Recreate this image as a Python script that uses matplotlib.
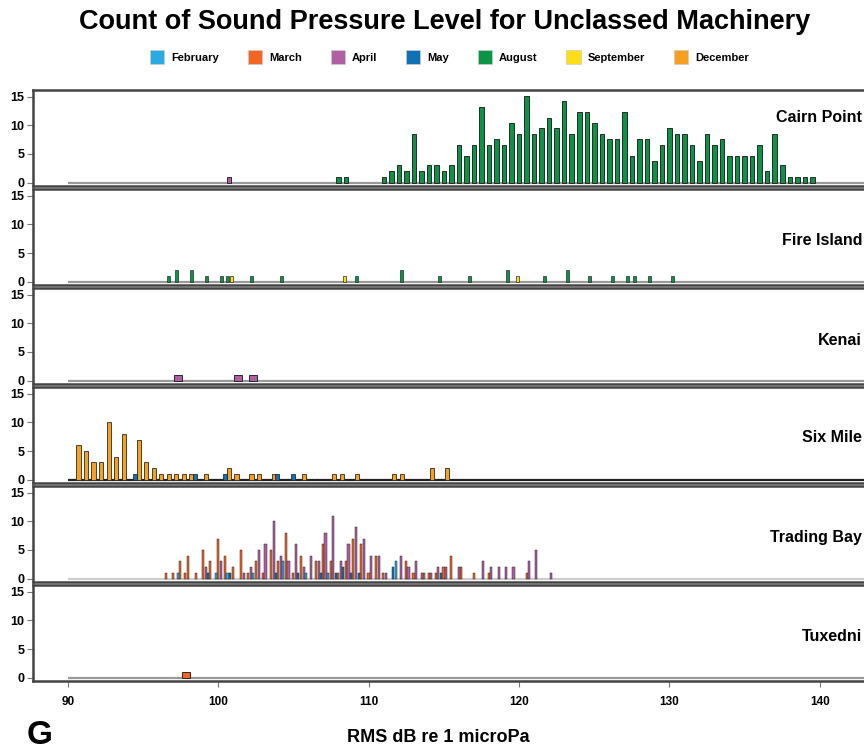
import matplotlib
matplotlib.use("Agg")
import matplotlib.pyplot as plt
from matplotlib.patches import Patch
from matplotlib.transforms import blended_transform_factory

plt.rcParams['font.family'] = ['Liberation Sans', 'DejaVu Sans']
plt.rcParams['font.weight'] = 'bold'

months = ['February', 'March', 'April', 'May', 'August', 'September', 'December']
month_colors = ['#29ABE2', '#F26522', '#B05FA5', '#0F72B5', '#0A9444', '#FFDE17', '#F7A01D']
sites = ['Cairn Point', 'Fire Island', 'Kenai', 'Six Mile', 'Trading Bay', 'Tuxedni']

# Cairn Point
cairn_apr_db = [100.7]
cairn_apr_n = [1]
cairn_aug_db = [108.0, 108.5, 111.0, 111.5, 112.0, 112.5, 113.0, 113.5, 114.0, 114.5,
                115.0, 115.5, 116.0, 116.5, 117.0, 117.5, 118.0, 118.5, 119.0, 119.5,
                120.0, 120.5, 121.0, 121.5, 122.0, 122.5, 123.0, 123.5, 124.0, 124.5,
                125.0, 125.5, 126.0, 126.5, 127.0, 127.5, 128.0, 128.5, 129.0, 129.5,
                130.0, 130.5, 131.0, 131.5, 132.0, 132.5, 133.0, 133.5, 134.0, 134.5,
                135.0, 135.5, 136.0, 136.5, 137.0, 137.5, 138.0, 138.5, 139.0, 139.5]
cairn_aug_n = [1, 1, 1, 2, 3, 2, 8.5, 2, 3, 3,
               2, 3, 6.5, 4.7, 6.5, 13.3, 6.5, 7.6, 6.5, 10.4,
               8.5, 15.2, 8.5, 9.5, 11.3, 9.5, 14.2, 8.5, 12.3, 12.3,
               10.4, 8.5, 7.6, 7.6, 12.3, 4.7, 7.6, 7.6, 3.7, 6.5,
               9.5, 8.5, 8.5, 6.5, 3.7, 8.5, 6.5, 7.6, 4.7, 4.7,
               4.7, 4.7, 6.5, 2, 8.5, 3, 1, 1, 1, 1]

# Fire Island
fire_aug_db = [96.7, 97.2, 98.2, 99.2, 100.2, 100.6, 102.2, 104.2, 109.2, 112.2, 114.7,
               116.7, 119.2, 121.7, 123.2, 124.7, 126.2, 127.2, 127.7, 128.7, 130.2]
fire_aug_n = [1, 2, 2, 1, 1, 1, 1, 1, 1, 2, 1, 1, 2, 1, 2, 1, 1, 1, 1, 1, 1]
fire_sep_db = [100.9, 108.4, 119.9]
fire_sep_n = [1, 1, 1]

# Kenai
kenai_apr_db = [97.3, 101.3, 102.3]
kenai_apr_n = [1, 1, 1]

# Six Mile
six_dec_db = [90.7, 91.2, 91.7, 92.2, 92.7, 93.2, 93.7, 94.7, 95.2, 95.7, 96.2, 96.7,
              97.2, 97.7, 98.2, 99.2, 100.7, 101.2, 102.2, 102.7, 103.7, 105.7, 107.7,
              108.2, 109.2, 111.7, 112.2, 114.2, 115.2]
six_dec_n = [6, 5, 3, 3, 10, 4, 8, 7, 3, 2, 1, 1, 1, 1, 1, 1, 2, 1, 1, 1, 1, 1, 1,
             1, 1, 1, 1, 2, 2]
six_may_db = [94.45, 98.44, 100.44, 103.92, 104.94]
six_may_n = [1, 1, 1, 1, 1]

# Trading Bay
trading_feb_db = [97.3, 99.86, 100.6, 102.28, 104.3, 105.82, 107.31, 111.79]
trading_feb_n = [1, 1, 1, 1, 3, 1, 1, 3]
trading_mar_db = [96.5, 97.0, 97.47, 97.8, 98.0, 98.5, 99.0, 99.46, 99.99, 100.46,
                  100.99, 101.48, 101.99, 102.48, 102.99, 103.5, 103.98, 104.5, 104.98,
                  105.49, 106.49, 106.98, 107.49, 107.97, 108.48, 108.95, 109.5, 109.99,
                  110.5, 110.96, 112.49, 112.98, 113.68, 114.0, 114.47, 114.97, 115.45,
                  116.11, 117.0, 117.99, 120.5]
trading_mar_n = [1, 1, 3, 1, 4, 1, 5, 3, 7, 4,
                 2, 5, 1, 3, 1, 5, 3, 8, 1,
                 4, 3, 6, 3, 1, 3, 7, 6, 1,
                 4, 1, 3, 1, 1, 1, 1, 2, 4,
                 2, 1, 1, 1]
trading_apr_db = [99.2, 100.19, 101.7, 102.15, 102.68, 103.14, 103.68, 104.14, 104.67,
                  105.14, 105.69, 106.14, 106.67, 107.13, 107.64, 108.15, 108.66, 109.15,
                  109.67, 110.17, 110.66, 111.14, 112.16, 112.65, 113.16, 113.52, 114.16,
                  114.62, 115.13, 115.98, 117.61, 118.15, 118.64, 119.12, 119.63, 120.65,
                  121.14, 122.11]
trading_apr_n = [2, 3, 1, 2, 5, 6, 10, 4, 3,
                 6, 2, 4, 3, 8, 11, 3, 6, 9,
                 7, 4, 4, 1, 4, 2, 3, 1, 1,
                 2, 2, 2, 3, 2, 2, 2, 2, 3,
                 5, 1]
trading_may_db = [99.33, 100.77, 103.83, 105.31, 106.84, 107.82, 108.3, 108.8, 109.33,
                  111.63, 114.8]
trading_may_n = [1, 1, 1, 1, 1, 1, 2, 1, 1, 2, 1]

# Tuxedni
tux_mar_db = [97.85]
tux_mar_n = [1]

panel_series = [
    [('April', cairn_apr_db, cairn_apr_n), ('August', cairn_aug_db, cairn_aug_n)],
    [('August', fire_aug_db, fire_aug_n), ('September', fire_sep_db, fire_sep_n)],
    [('April', kenai_apr_db, kenai_apr_n)],
    [('December', six_dec_db, six_dec_n), ('May', six_may_db, six_may_n)],
    [('March', trading_mar_db, trading_mar_n), ('April', trading_apr_db, trading_apr_n),
     ('February', trading_feb_db, trading_feb_n), ('May', trading_may_db, trading_may_n)],
    [('March', tux_mar_db, tux_mar_n)],
]
bar_widths = [0.3, 0.2, 0.5, 0.28, 0.15, 0.55]
edge_widths = [0.7, 0.5, 0.7, 0.6, 0.35, 0.7]
baseline_colors = ['#999999', '#999999', '#999999', '#222222', '#cccccc', '#999999']
label_y = [11.3, 7.2, 7.0, 7.3, 7.2, 7.2]

color_of = dict(zip(months, month_colors))

W, H = 864, 750
fig = plt.figure(figsize=(W / 100, H / 100), dpi=100)

left_px, right_px = 33, 880
top0, panel_h, step = 90, 96, 99

for i, site in enumerate(sites):
    top = top0 + i * step
    ax = fig.add_axes([left_px / W, 1 - (top + panel_h) / H, (right_px - left_px) / W, panel_h / H])
    ax.set_xlim(87.67, 144.0)
    ax.set_ylim(-0.6, 16.2)
    ax.hlines(0, 90, 144, color=baseline_colors[i], lw=1.6, zorder=1)
    for month, xs, ns in panel_series[i]:
        ax.bar(xs, ns, width=bar_widths[i], color=color_of[month],
               edgecolor='#2a2a2a', linewidth=edge_widths[i], zorder=2)
    ax.set_yticks([0, 5, 10, 15])
    ax.tick_params(axis='y', labelsize=9, length=4, color='#777777', pad=2)
    for lab in ax.get_yticklabels():
        lab.set_fontweight('bold')
    for sp in ax.spines.values():
        sp.set_linewidth(1.8)
        sp.set_color('#444444')
    ax.text(862 / W, label_y[i], site,
            transform=blended_transform_factory(fig.transFigure, ax.transData),
            ha='right', va='center', fontsize=11.5, fontweight='bold')
    if i < len(sites) - 1:
        ax.set_xticks([])
    else:
        ax.set_xticks([90, 100, 110, 120, 130, 140])
        ax.tick_params(axis='x', labelsize=8.5, length=4, color='#777777', pad=7)
        for lab in ax.get_xticklabels():
            lab.set_fontweight('bold')

fig.text(0.515, 1 - 22 / H, 'Count of Sound Pressure Level for Unclassed Machinery',
         ha='center', va='center', fontsize=19.5, fontweight='bold')

handles = [Patch(facecolor=c, edgecolor='#cccccc', linewidth=0.5) for c in month_colors]
fig.legend(handles, months, loc='center', bbox_to_anchor=(0.52, 1 - 57 / H), ncol=7,
           frameon=False, handlelength=1.3, handleheight=1.5,
           handletextpad=0.6, columnspacing=2.6, prop={'weight': 'bold', 'size': 8})

fig.text(438 / W, 1 - 737 / H, 'RMS dB re 1 microPa', ha='center', va='center',
         fontsize=13, fontweight='bold')
fig.text(40 / W, 1 - 735 / H, 'G', ha='center', va='center', fontsize=24, fontweight='bold')

fig.savefig('out.png', dpi=100)
